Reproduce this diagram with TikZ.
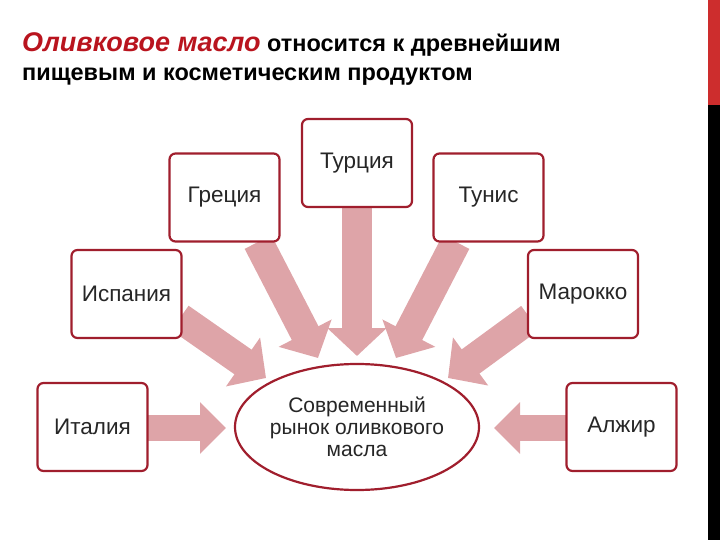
\documentclass[tikz,border=0pt]{standalone}
\usepackage{fontspec}
\setmainfont{Liberation Sans}
\usetikzlibrary{arrows.meta}
\definecolor{boxred}{RGB}{160,30,45}
\definecolor{arrowpink}{RGB}{222,164,168}
\definecolor{titlered}{RGB}{185,20,30}
\definecolor{barred}{RGB}{205,45,45}
\begin{document}
\begin{tikzpicture}[x=1pt,y=-1pt,
  box/.style={draw=boxred,line width=2.2pt,rounded corners=6pt,fill=white,minimum width=110pt,minimum height=88pt,font=\fontsize{22.5}{26}\selectfont,text=black!85},
  barrow/.style={draw=arrowpink,line width=30pt,-{Triangle[width=58pt,length=28pt]}},
  harrow/.style={draw=arrowpink,line width=26pt,-{Triangle[width=50pt,length=26pt]}}]
\useasboundingbox (0,0) rectangle (720,540);
\fill[barred] (708,0) rectangle (720,105);
\fill[black] (708,105) rectangle (720,540);
\node[anchor=base west,inner sep=0,font=\bfseries\fontsize{23.5}{26}\selectfont] (t1) at (22,52) {\textcolor{titlered}{\itshape\fontsize{27}{30}\selectfont Оливковое масло} относится к древнейшим};
\node[anchor=base west,inner sep=0,font=\bfseries\fontsize{23.5}{26}\selectfont] (t2) at (22,81) {пищевым и косметическим продуктом};
\coordinate (tu1) at (357,208); \coordinate (tu2) at (357,356);
\coordinate (g1) at (258,242); \coordinate (g2) at (318,358);
\coordinate (n1) at (456,242); \coordinate (n2) at (396,358);
\coordinate (s1) at (180,318); \coordinate (s2) at (266,378);
\coordinate (m1) at (530,318); \coordinate (m2) at (448,378);
\coordinate (i1) at (148,428); \coordinate (i2) at (226,428);
\coordinate (a1) at (566,428); \coordinate (a2) at (494,428);
\draw[barrow] (tu1) -- (tu2);
\draw[barrow] (g1) -- (g2);
\draw[barrow] (n1) -- (n2);
\draw[barrow] (s1) -- (s2);
\draw[barrow] (m1) -- (m2);
\draw[harrow] (i1) -- (i2);
\draw[harrow] (a1) -- (a2);
\node[box] (tur) at (357,163) {Турция};
\node[box] (gre) at (224.5,197.5) {Греция};
\node[box] (tun) at (488.5,197.5) {Тунис};
\node[box] (isp) at (126.5,294) {Испания};
\node[box] (mar) at (583,294) {Марокко};
\node[box] (ita) at (92.5,427) {Италия};
\node[box] (alz) at (621.5,427) {Алжир};
\draw[boxred,line width=2.2pt,fill=white] (357,427) ellipse [x radius=122,y radius=63];
\node[align=center,font=\fontsize{21}{22}\selectfont,text=black!85] (mkt) at (357,427) {Современный\\рынок оливкового\\масла};
\end{tikzpicture}
\end{document}
